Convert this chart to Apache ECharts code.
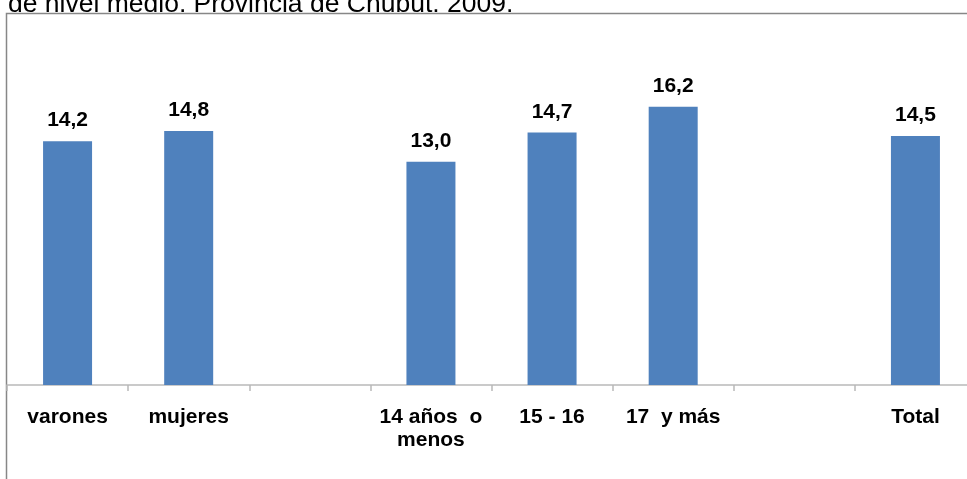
<!DOCTYPE html>
<html>
<head>
<meta charset="utf-8">
<script src="https://cdn.jsdelivr.net/npm/echarts@6/dist/echarts.min.js"></script>
<style>
  html, body { margin: 0; padding: 0; background: #fff; }
  #chart { width: 967px; height: 479px; }
</style>
</head>
<body>
<div id="chart"></div>
<script>
// categories (empty slots are gaps in the original chart)
const categories = ['varones', 'mujeres', '', '14 años  o\nmenos', '15 - 16', '17  y más', '', 'Total']
const values = [14.2, 14.8, null, 13.0, 14.7, 16.2, null, 14.5]

const chart = echarts.init(document.getElementById('chart'))

chart.setOption({
  animation: false,
  title: {
    text: 'de nivel medio. Provincia de Chubut. 2009.',
    left: 3,
    top: -14,
    textStyle: {
      fontFamily: 'Liberation Sans, Arial, sans-serif',
      fontSize: 26.5,
      fontWeight: 'normal',
      color: '#000'
    }
  },
  graphic: [{
    type: 'rect',
    shape: { x: 6.5, y: 13.5, width: 990, height: 500 },
    style: { fill: 'none', stroke: '#878787', lineWidth: 1.5 },
    silent: true
  }],
  grid: {
    left: 7,
    top: 41.6,
    width: 969,
    bottom: 94,
    outerBoundsMode: 'none',
    containLabel: false
  },
  xAxis: {
    type: 'category',
    data: categories,
    boundaryGap: true,
    axisLine: { lineStyle: { color: '#b9b9b9', width: 1.5 } },
    axisTick: { show: true, length: 6, lineStyle: { color: '#b9b9b9', width: 1.5 } },
    axisLabel: {
      interval: 0,
      margin: 21,
      color: '#000',
      fontFamily: 'Liberation Sans, Arial, sans-serif',
      fontWeight: 'bold',
      fontSize: 21,
      lineHeight: 23,
      verticalAlign: 'top'
    }
  },
  yAxis: {
    type: 'value',
    min: 0,
    max: 20,
    show: false,
    splitLine: { show: false }
  },
  series: [{
    type: 'bar',
    data: values,
    barWidth: 49,
    itemStyle: { color: '#4f81bd' },
    label: {
      show: true,
      position: 'top',
      distance: 10,
      color: '#000',
      fontFamily: 'Liberation Sans, Arial, sans-serif',
      fontWeight: 'bold',
      fontSize: 21,
      formatter: p => p.value.toFixed(1).replace('.', ',')
    }
  }]
})
</script>
</body>
</html>
